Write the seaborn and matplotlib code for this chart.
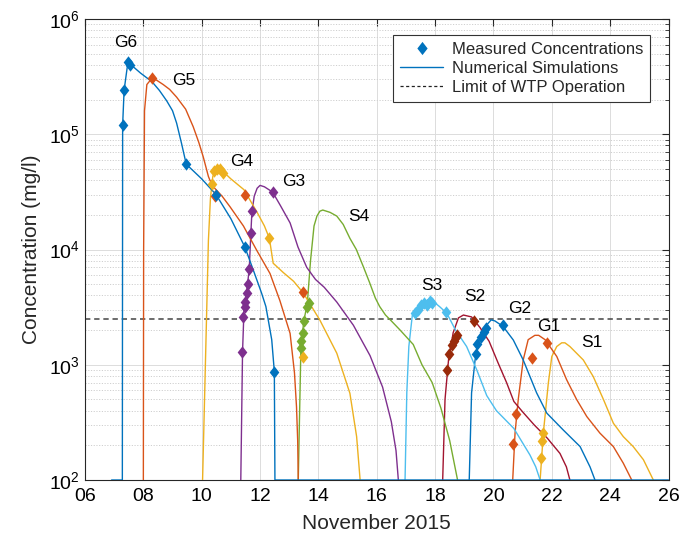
import matplotlib
matplotlib.use("Agg")
import matplotlib.pyplot as plt
from matplotlib.lines import Line2D
from matplotlib.path import Path
from matplotlib.ticker import LogLocator, NullFormatter, FixedLocator
import pandas as pd
import seaborn as sns

# ---------------------------------------------------------------------------
# Data: day of November 2015 and concentration (mg/l)
# ---------------------------------------------------------------------------
# simulated breakthrough curves
g6_sim_day = [6.91, 7.28, 7.29, 7.34, 7.47, 7.53, 7.9, 8.3, 8.55, 8.8, 9.0, 9.14, 9.31, 9.47,
              10.0, 10.49, 11.0, 11.48, 11.8, 12.05, 12.2, 12.4, 12.49, 12.51, 26.0]
g6_sim_conc = [100, 100, 1.2e5, 2.4e5, 4.2e5, 4.1e5, 3.4e5, 2.85e5, 2.4e5, 1.95e5, 1.6e5, 1.25e5, 8.3e4, 5.5e4,
               4.1e4, 3.0e4, 1.85e4, 1.05e4, 6.3e3, 4.2e3, 3.2e3, 1.65e3, 870, 100, 100]

g5_sim_day = [8.0, 8.01, 8.04, 8.12, 8.29, 8.45, 8.68, 8.9, 9.14, 9.45, 9.71, 9.9, 10.05, 10.23,
              10.28, 10.4, 10.7, 10.97, 11.43, 11.88, 12.34, 12.68, 13.03, 13.18, 13.25, 13.29, 13.31]
g5_sim_conc = [100, 1.0e4, 1.6e5, 2.7e5, 3.05e5, 2.95e5, 2.7e5, 2.45e5, 2.1e5, 1.65e5, 1.16e5, 8.5e4, 6.4e4, 4.3e4,
               4.0e4, 3.5e4, 2.9e4, 2.35e4, 1.6e4, 9.9e3, 6.2e3, 3.6e3, 1.87e3, 850, 430, 220, 100]

g4_sim_day = [10.03, 10.23, 10.3, 10.38, 10.5, 10.62, 10.75, 11.0, 11.45, 11.9, 12.15, 12.32, 12.45,
              12.8, 13.15, 13.48, 14.05, 14.63, 15.08, 15.31, 15.43]
g4_sim_conc = [100, 1.2e4, 2.8e4, 4.3e4, 5.1e4, 5.2e4, 4.7e4, 4.1e4, 3.3e4, 2.1e4, 1.6e4, 1.25e4, 7.6e3,
               6.3e3, 5.3e3, 4.2e3, 2.44e3, 1.26e3, 565, 238, 100]

g3_sim_day = [11.34, 11.4, 11.45, 11.55, 11.63, 11.68, 11.72, 11.8, 11.9, 12.0, 12.15, 12.43, 12.7,
              13.03, 13.3, 13.6, 13.9, 14.2, 14.63, 15.2, 15.77, 16.2, 16.5, 16.66, 16.74]
g3_sim_conc = [100, 1.3e3, 3.0e3, 4.5e3, 6.8e3, 1.3e4, 2.1e4, 2.9e4, 3.4e4, 3.6e4, 3.5e4, 3.15e4, 2.4e4,
               1.7e4, 1.05e4, 7.0e3, 5.5e3, 4.7e3, 3.5e3, 2.2e3, 1.2e3, 640, 320, 180, 100]

s4_sim_day = [13.31, 13.4, 13.5, 13.62, 13.73, 13.85, 13.95, 14.05, 14.15, 14.4, 14.63, 14.85,
              15.08, 15.3, 15.54, 15.75, 15.95, 16.1, 16.3, 16.5, 16.8, 17.25, 17.55, 17.9,
              18.2, 18.5, 18.77]
s4_sim_conc = [100, 1.4e3, 2.4e3, 3.4e3, 8.0e3, 1.6e4, 1.95e4, 2.15e4, 2.2e4, 2.1e4, 1.95e4, 1.65e4,
               1.25e4, 1.0e4, 7.1e3, 5.2e3, 3.8e3, 3.2e3, 2.7e3, 2.4e3, 2.0e3, 1.5e3, 1.0e3, 700,
               420, 220, 100]

s3_sim_day = [16.97, 17.03, 17.1, 17.22, 17.3, 17.45, 17.6, 17.8, 17.9, 18.15, 18.4, 18.7,
              19.08, 19.43, 19.77, 20.1, 20.7, 21.25, 21.45, 21.6]
s3_sim_conc = [100, 570, 1.44e3, 2.7e3, 3.0e3, 3.3e3, 3.5e3, 3.7e3, 3.6e3, 3.2e3, 2.8e3, 2.0e3,
               1.44e3, 900, 540, 400, 280, 165, 130, 100]

s2_sim_day = [18.26, 18.34, 18.46, 18.62, 18.8, 18.97, 19.25, 19.54, 19.85, 20.15, 20.45, 20.7,
              21.0, 21.4, 21.85, 22.28, 22.5, 22.62]
s2_sim_conc = [100, 500, 1.1e3, 1.9e3, 2.55e3, 2.7e3, 2.6e3, 2.1e3, 1.6e3, 1.05e3, 700, 480,
               390, 300, 230, 170, 130, 100]

g2_sim_day = [19.17, 19.25, 19.37, 19.53, 19.76, 19.92, 20.05, 20.33, 20.68, 21.02, 21.48, 21.83,
              22.39, 22.97, 23.31, 23.48]
g2_sim_conc = [100, 570, 1.1e3, 1.76e3, 2.2e3, 2.45e3, 2.4e3, 2.15e3, 1.64e3, 1.1e3, 570, 380,
               272, 195, 130, 100]

g1_sim_day = [20.66, 20.74, 20.85, 21.02, 21.19, 21.42, 21.55, 21.77, 22.17, 22.51, 22.85, 23.2,
              23.65, 24.11, 24.45, 24.74]
g1_sim_conc = [100, 255, 500, 1.1e3, 1.65e3, 1.8e3, 1.8e3, 1.65e3, 1.18e3, 740, 500, 355,
               255, 195, 140, 100]

s1_sim_day = [21.6, 21.71, 21.88, 22.0, 22.17, 22.34, 22.45, 22.62, 23.08, 23.42, 23.77, 24.11,
              24.45, 24.79, 25.14, 25.48]
s1_sim_conc = [100, 255, 690, 1.18e3, 1.44e3, 1.55e3, 1.55e3, 1.44e3, 1.1e3, 790, 500, 311,
               238, 195, 150, 100]

# measured concentrations
g6_obs_day = [7.29, 7.34, 7.47, 7.53, 9.47, 10.49, 11.48, 12.49]
g6_obs_conc = [1.2e5, 2.4e5, 4.2e5, 4.0e5, 5.5e4, 3.0e4, 1.05e4, 870]

g5_obs_day = [8.29, 10.45, 11.48, 13.48]
g5_obs_conc = [3.05e5, 2.9e4, 3.0e4, 4.25e3]

g4_obs_day = [10.34, 10.42, 10.51, 10.63, 10.74, 12.32, 13.48]
g4_obs_conc = [3.7e4, 4.8e4, 5.0e4, 5.0e4, 4.6e4, 1.25e4, 1.17e3]

g3_obs_day = [11.39, 11.43, 11.47, 11.5, 11.54, 11.59, 11.62, 11.68, 11.71, 12.43]
g3_obs_conc = [1.3e3, 2.6e3, 3.2e3, 3.5e3, 4.2e3, 5.0e3, 6.8e3, 1.4e4, 2.15e4, 3.15e4]

s4_obs_day = [13.39, 13.42, 13.46, 13.51, 13.62, 13.68]
s4_obs_conc = [1.39e3, 1.6e3, 1.9e3, 2.4e3, 3.2e3, 3.46e3]

s3_obs_day = [17.31, 17.4, 17.5, 17.62, 17.72, 17.83, 17.88, 18.38]
s3_obs_conc = [2.8e3, 3.0e3, 3.3e3, 3.4e3, 3.3e3, 3.6e3, 3.4e3, 2.85e3]

s2_obs_day = [18.4, 18.49, 18.57, 18.65, 18.72, 18.76, 19.34]
s2_obs_conc = [900, 1.24e3, 1.49e3, 1.6e3, 1.73e3, 1.81e3, 2.38e3]

g2_obs_day = [19.4, 19.45, 19.58, 19.67, 19.75, 20.32]
g2_obs_conc = [1.25e3, 1.5e3, 1.75e3, 1.94e3, 2.07e3, 2.2e3]

g1_obs_day = [20.66, 20.76, 21.33, 21.83]
g1_obs_conc = [205, 375, 1.14e3, 1.55e3]

s1_obs_day = [21.63, 21.68, 21.69]
s1_obs_conc = [156, 218, 257]

# annotation anchor of each curve label (day, concentration)
label_day = {"G6": 7.4, "G5": 9.37, "G4": 11.37, "G3": 13.14, "S4": 15.37,
             "S3": 17.88, "S2": 19.37, "G2": 20.91, "G1": 21.88, "S1": 23.37}
label_conc = {"G6": 6.3e5, "G5": 2.9e5, "G4": 5.8e4, "G3": 3.9e4, "S4": 1.93e4,
              "S3": 4.9e3, "S2": 3.9e3, "G2": 3.1e3, "G1": 2.14e3, "S1": 1.55e3}

wtp_limit = 2500
x_ticks = list(range(6, 27, 2))

# ---------------------------------------------------------------------------
# Styling
# ---------------------------------------------------------------------------
BLUE, ORANGE, YELLOW = "#0072BD", "#D95319", "#EDB120"
PURPLE, GREEN, LBLUE, CRIMSON = "#7E2F8E", "#77AC30", "#4DBEEE", "#A2142F"

# slightly narrow diamond marker
DIAMOND = Path([(0, 1), (0.78, 0), (0, -1), (-0.78, 0), (0, 1)],
               [Path.MOVETO, Path.LINETO, Path.LINETO, Path.LINETO, Path.CLOSEPOLY])

series = [
    ("S1", YELLOW, YELLOW, s1_sim_day, s1_sim_conc, s1_obs_day, s1_obs_conc),
    ("G1", ORANGE, ORANGE, g1_sim_day, g1_sim_conc, g1_obs_day, g1_obs_conc),
    ("G2", BLUE, BLUE, g2_sim_day, g2_sim_conc, g2_obs_day, g2_obs_conc),
    ("S2", CRIMSON, "#992A0A", s2_sim_day, s2_sim_conc, s2_obs_day, s2_obs_conc),
    ("S3", LBLUE, LBLUE, s3_sim_day, s3_sim_conc, s3_obs_day, s3_obs_conc),
    ("S4", GREEN, GREEN, s4_sim_day, s4_sim_conc, s4_obs_day, s4_obs_conc),
    ("G3", PURPLE, PURPLE, g3_sim_day, g3_sim_conc, g3_obs_day, g3_obs_conc),
    ("G4", YELLOW, YELLOW, g4_sim_day, g4_sim_conc, g4_obs_day, g4_obs_conc),
    ("G5", ORANGE, ORANGE, g5_sim_day, g5_sim_conc, g5_obs_day, g5_obs_conc),
    ("G6", BLUE, BLUE, g6_sim_day, g6_sim_conc, g6_obs_day, g6_obs_conc),
]

sns.set_style("white")
plt.rcParams["font.family"] = ["Liberation Sans", "DejaVu Sans"]
plt.rcParams["axes.unicode_minus"] = False

fig = plt.figure(figsize=(6.8, 5.38), dpi=100)
ax = fig.add_axes([85 / 680, 58 / 538, 583.5 / 680, 461 / 538])

ax.set_yscale("log")
ax.set_xlim(6, 26)
ax.set_ylim(1e2, 1e6)

# grid
ax.yaxis.set_major_locator(LogLocator(base=10, numticks=10))
ax.yaxis.set_minor_locator(LogLocator(base=10, subs=range(2, 10), numticks=20))
ax.yaxis.set_minor_formatter(NullFormatter())
ax.xaxis.set_major_locator(FixedLocator(x_ticks))
ax.set_xticklabels([f"{d:02d}" for d in x_ticks])
ax.grid(True, which="major", color="#dcdcdc", lw=0.7, ls="-")
ax.grid(True, which="minor", axis="y", color="#cfcfcf", lw=0.7, ls=(0, (1.2, 1.6)))
ax.set_axisbelow(True)

# simulated curves
for name, lc, mc, sd, sc, od, oc in series:
    sim = pd.DataFrame({"day": sd, "conc": sc})
    sns.lineplot(data=sim, x="day", y="conc", color=lc, lw=1.0, sort=False,
                 estimator=None, ax=ax, legend=False, zorder=3)

# WTP operation limit
ax.axhline(wtp_limit, color="#444444", lw=1.1, ls=(0, (3.5, 2.5)), zorder=2)

# measured points
for name, lc, mc, sd, sc, od, oc in series:
    obs = pd.DataFrame({"day": od, "conc": oc})
    sns.scatterplot(data=obs, x="day", y="conc", color=mc, marker=DIAMOND, s=80,
                    linewidth=0, ax=ax, legend=False, zorder=4)

# curve labels
for name in label_day:
    ax.text(label_day[name], label_conc[name], name, fontsize=12.5,
            ha="center", va="center", color="black", zorder=5)

# axes frame
for sp in ax.spines.values():
    sp.set_color("#262626")
    sp.set_linewidth(0.8)
ax.tick_params(which="both", direction="in", top=True, right=True,
               colors="#262626", labelcolor="black")
ax.tick_params(which="major", length=5, labelsize=14)
ax.tick_params(which="minor", length=3)
ax.tick_params(axis="x", pad=6)

ax.set_xlabel("November 2015", fontsize=15, labelpad=6)
ax.set_ylabel("Concentration (mg/l)", fontsize=15, labelpad=6)

handles = [
    Line2D([], [], marker=DIAMOND, color=BLUE, ls="none", ms=9.5, mew=0),
    Line2D([], [], color=BLUE, lw=1.0),
    Line2D([], [], color="#222222", lw=0.9, ls=(0, (2.5, 2))),
]
labels = ["Measured Concentrations", "Numerical Simulations", "Limit of WTP Operation"]
leg = ax.legend(handles, labels, loc="upper right", bbox_to_anchor=(0.968, 0.965),
                borderaxespad=0, fontsize=12, frameon=True, fancybox=False,
                framealpha=1, edgecolor="#333333", handlelength=2.6,
                handletextpad=0.5, labelspacing=0.25, borderpad=0.4)
leg.get_frame().set_linewidth(0.8)

fig.savefig("out.png", dpi=100)
